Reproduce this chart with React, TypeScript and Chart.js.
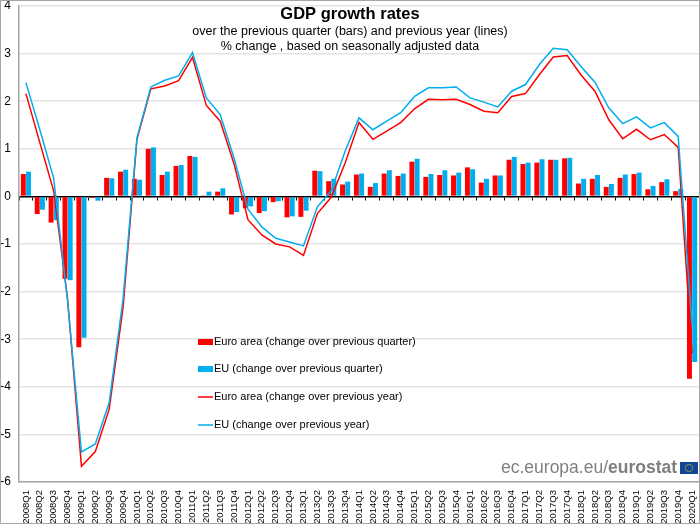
import { useEffect, useRef } from "react";
import { Chart, registerables } from "chart.js";

Chart.register(...registerables);

const quarters = [
  "2008Q1", "2008Q2", "2008Q3", "2008Q4", "2009Q1", "2009Q2", "2009Q3", "2009Q4",
  "2010Q1", "2010Q2", "2010Q3", "2010Q4", "2011Q1", "2011Q2", "2011Q3", "2011Q4",
  "2012Q1", "2012Q2", "2012Q3", "2012Q4", "2013Q1", "2013Q2", "2013Q3", "2013Q4",
  "2014Q1", "2014Q2", "2014Q3", "2014Q4", "2015Q1", "2015Q2", "2015Q3", "2015Q4",
  "2016Q1", "2016Q2", "2016Q3", "2016Q4", "2017Q1", "2017Q2", "2017Q3", "2017Q4",
  "2018Q1", "2018Q2", "2018Q3", "2018Q4", "2019Q1", "2019Q2", "2019Q3", "2019Q4",
  "2020Q1",
];

const euroAreaQuarter = [
  0.47, -0.37, -0.55, -1.73, -3.17, -0.03, 0.39, 0.52,
  0.37, 1.0, 0.45, 0.64, 0.85, 0.01, 0.1, -0.38,
  -0.25, -0.35, -0.12, -0.44, -0.43, 0.54, 0.32, 0.25,
  0.46, 0.2, 0.48, 0.43, 0.73, 0.41, 0.45, 0.44,
  0.61, 0.29, 0.44, 0.77, 0.68, 0.71, 0.77, 0.8,
  0.27, 0.37, 0.2, 0.39, 0.47, 0.15, 0.3, 0.11,
  -3.83,
];
const euQuarter = [
  0.52, -0.28, -0.5, -1.76, -2.97, -0.09, 0.38, 0.56,
  0.35, 1.03, 0.52, 0.66, 0.83, 0.1, 0.17, -0.33,
  -0.21, -0.31, -0.1, -0.42, -0.3, 0.53, 0.37, 0.31,
  0.48, 0.28, 0.55, 0.48, 0.79, 0.47, 0.55, 0.5,
  0.57, 0.37, 0.44, 0.83, 0.71, 0.78, 0.77, 0.81,
  0.37, 0.45, 0.26, 0.46, 0.5, 0.22, 0.36, 0.16,
  -3.48,
];
const euroAreaYear = [
  2.16, 1.13, 0.11, -2.15, -5.67, -5.36, -4.47, -2.33,
  1.2, 2.26, 2.32, 2.43, 2.92, 1.91, 1.58, 0.68,
  -0.49, -0.81, -1.0, -1.06, -1.24, -0.36, -0.02, 0.7,
  1.55, 1.2, 1.37, 1.55, 1.84, 2.04, 2.03, 2.04,
  1.93, 1.79, 1.76, 2.1, 2.16, 2.56, 2.93, 2.96,
  2.55, 2.21, 1.61, 1.21, 1.41, 1.19, 1.3, 1.03,
  -3.3,
];
const euYear = [
  2.39, 1.4, 0.38, -2.2, -5.37, -5.2, -4.33, -2.15,
  1.23, 2.3, 2.44, 2.53, 3.02, 2.07, 1.72, 0.8,
  -0.27, -0.64, -0.88, -0.96, -1.04, -0.22, 0.12, 0.95,
  1.65, 1.4, 1.58, 1.76, 2.1, 2.28, 2.28, 2.3,
  2.07, 1.98, 1.88, 2.21, 2.35, 2.77, 3.11, 3.08,
  2.73, 2.4, 1.86, 1.53, 1.67, 1.44, 1.55, 1.26,
  -2.7,
];

const RED = "#ff0000";
const BLUE = "#00aeef";
const FONT = '"Liberation Sans", Arial, sans-serif';

const legendRows = [
  { text: "Euro area (change over previous quarter)", color: RED, bar: true },
  { text: "EU (change over previous quarter)", color: BLUE, bar: true },
  { text: "Euro area (change over previous year)", color: RED, bar: false },
  { text: "EU (change over previous year)", color: BLUE, bar: false },
];

// headings, legend, logo and the picture frame sit on top of the plot
const overlay = {
  id: "overlay",
  afterDraw(chart: Chart) {
    const ctx = chart.ctx;
    ctx.save();
    ctx.fillStyle = "#000";
    ctx.textAlign = "center";
    ctx.textBaseline = "alphabetic";
    ctx.font = `bold 16.5px ${FONT}`;
    ctx.fillText("GDP growth rates", 350, 19);
    ctx.font = `12.5px ${FONT}`;
    ctx.fillText("over the previous quarter (bars) and previous year (lines)", 350, 35);
    ctx.fillText("% change , based on seasonally adjusted data", 350, 50);

    ctx.textAlign = "left";
    ctx.textBaseline = "middle";
    ctx.font = `11px ${FONT}`;
    legendRows.forEach((row, i) => {
      const y = [342, 369, 397, 425][i];
      ctx.fillStyle = row.color;
      if (row.bar) ctx.fillRect(198, y - 3, 15, 6);
      else ctx.fillRect(198, y - 0.75, 15, 1.5);
      ctx.fillStyle = "#000";
      ctx.fillText(row.text, 214, y);
    });

    ctx.textBaseline = "alphabetic";
    ctx.fillStyle = "#7f7f7f";
    ctx.font = `17.5px ${FONT}`;
    const url = "ec.europa.eu/";
    ctx.fillText(url, 501, 473);
    const urlWidth = ctx.measureText(url).width;
    ctx.font = `bold 17.5px ${FONT}`;
    ctx.fillText("eurostat", 501 + urlWidth, 473);

    ctx.fillStyle = "#0f4496";
    ctx.fillRect(680, 462, 18, 12);
    ctx.fillStyle = "#d9c21f";
    for (let a = 0; a < 12; a++) {
      const t = (a * Math.PI) / 6;
      ctx.beginPath();
      ctx.arc(689 + 3.6 * Math.cos(t), 468 + 3.6 * Math.sin(t), 0.6, 0, Math.PI * 2);
      ctx.fill();
    }

    ctx.strokeStyle = "#a6a6a6";
    ctx.lineWidth = 1;
    ctx.strokeRect(0.5, 0.5, 699, 523);
    ctx.restore();
  },
};

export default function App() {
  const chartRef = useRef<HTMLCanvasElement | null>(null);

  useEffect(() => {
    document.body.style.margin = "0";
    document.body.style.background = "#fff";
    if (!chartRef.current) return;
    const ctx = chartRef.current.getContext("2d");
    if (!ctx) return;

    const myChart = new Chart(ctx, {
      type: "bar",
      data: {
        labels: quarters,
        datasets: [
          { type: "line", label: "EU (change over previous year)", data: euYear, borderColor: BLUE, borderWidth: 1.5, pointRadius: 0, tension: 0, order: 0 },
          { type: "line", label: "Euro area (change over previous year)", data: euroAreaYear, borderColor: RED, borderWidth: 1.5, pointRadius: 0, tension: 0, order: 1 },
          { label: "Euro area (change over previous quarter)", data: euroAreaQuarter, backgroundColor: RED, order: 2, categoryPercentage: 0.75, barPercentage: 0.95 },
          { label: "EU (change over previous quarter)", data: euQuarter, backgroundColor: BLUE, order: 2, categoryPercentage: 0.75, barPercentage: 0.95 },
        ],
      },
      options: {
        animation: false,
        responsive: false,
        devicePixelRatio: 1,
        layout: { padding: { top: 6, right: 1, left: 0, bottom: 0 } },
        plugins: { legend: { display: false }, title: { display: false }, tooltip: { enabled: false } },
        scales: {
          x: {
            offset: true,
            grid: { display: false },
            border: { color: "#a6a6a6", width: 1.5 },
            ticks: { autoSkip: false, minRotation: 90, maxRotation: 90, padding: 0, color: "#000", font: { family: FONT, size: 9.5 } },
            afterFit: (s: any) => { s.height = 43; s.paddingLeft = 0; s.paddingRight = 0; },
          },
          // the tick marks under the zero line
          zero: {
            axis: "x",
            type: "category",
            labels: quarters,
            position: { y: 0 },
            offset: true,
            grid: { drawOnChartArea: false, drawTicks: true, tickLength: 3, color: "#000", offset: true },
            border: { color: "#000", width: 1.5 },
            ticks: { display: false },
            afterFit: (s: any) => { s.paddingLeft = 0; s.paddingRight = 0; },
          },
          y: {
            min: -6,
            max: 4,
            grid: { color: "#e3e3e3", lineWidth: 1.5, drawTicks: false },
            border: { color: "#a6a6a6", width: 1.5 },
            ticks: { stepSize: 1, padding: 8, color: "#000", font: { family: FONT, size: 12 } },
            afterFit: (s: any) => { s.width = 19; s.paddingTop = 0; s.paddingBottom = 0; },
          },
        },
      },
      plugins: [overlay],
    } as any);
    return () => {
      myChart.destroy();
    };
  }, []);

  return <canvas ref={chartRef} width={700} height={525} style={{ display: "block" }}></canvas>;
}
